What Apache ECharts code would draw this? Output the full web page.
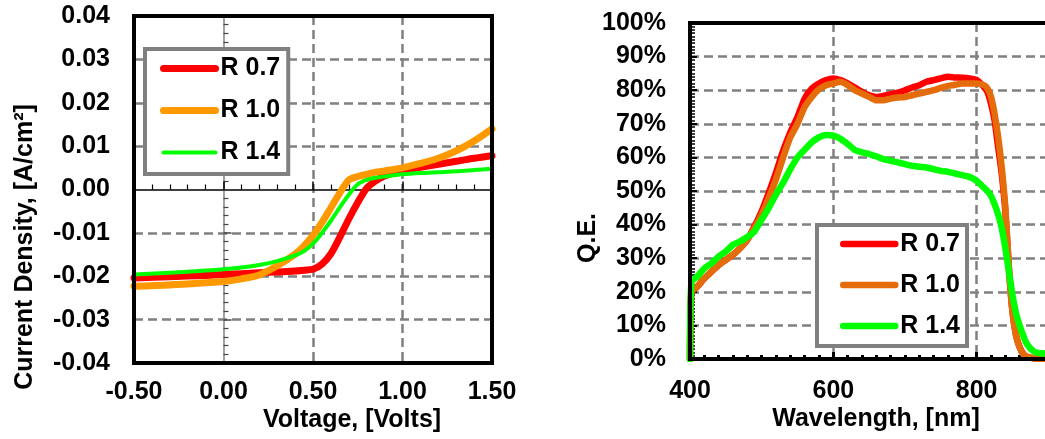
<!DOCTYPE html>
<html><head><meta charset="utf-8">
<script src="https://cdn.jsdelivr.net/npm/echarts@6/dist/echarts.min.js"></script>
<style>html,body{margin:0;padding:0;background:#fff}#c{width:1045px;height:439px}</style>
</head><body><div id="c"></div>
<script>
// ---- J-V data (left chart) ----
const voltage = [-0.5,-0.3,-0.1,0,0.1,0.2,0.3,0.4,0.45,0.5,0.55,0.6,0.65,0.7,0.75,0.8,0.85,0.9,1.0,1.1,1.2,1.3,1.4,1.5];
const jR07 = [-0.0204,-0.0201,-0.0198,-0.0196,-0.0194,-0.0192,-0.0190,-0.0188,-0.0186,-0.0184,-0.0172,-0.0148,-0.0110,-0.0068,-0.0030,0.0003,0.0020,0.0031,0.0044,0.0051,0.0058,0.0065,0.0072,0.0078];
const jR10 = [-0.0223,-0.0220,-0.0215,-0.0212,-0.0206,-0.0197,-0.0176,-0.0149,-0.0130,-0.0106,-0.0076,-0.0042,-0.0008,0.0022,0.0030,0.0035,0.0040,0.0043,0.0050,0.0060,0.0072,0.0089,0.0112,0.0140];
const jR14 = [-0.0196,-0.0192,-0.0187,-0.0184,-0.0180,-0.0174,-0.0165,-0.0152,-0.0142,-0.0125,-0.0100,-0.0072,-0.0041,-0.0012,0.0012,0.0022,0.0027,0.0030,0.0035,0.0038,0.0040,0.0042,0.0045,0.0048];

// ---- QE data (right chart), percent ----
const wavelength = [400,402,410,420,430,440,450,460,470,480,490,500,510,520,530,540,550,560,570,580,590,600,610,620,630,640,650,660,670,680,690,700,710,720,730,740,750,760,770,780,790,800,810,815,820,825,830,835,840,845,850,855,860,865,870,880,890,900];
const qeR07 = [0,20,21.5,24,26,28,29.5,31,33,35.5,39.5,44,49.5,55.5,62,67.5,72,77.5,80.5,82,83,83.5,83,82,80.8,79.5,78.5,78,78.3,78.8,79.3,80,80.8,81.5,82.5,83,83.5,84,83.8,83.7,83.5,83,81,79.5,76,71,63,55,44,27,14,7,3.5,1.5,0.7,0.2,0.1,0];
const qeR10 = [0,20,21.5,24,26,28,29.5,31,33,35.5,39,43,48,53.5,60,66,70,75,78,80.3,81.5,82,82.5,81.5,80,79,78,77,77,77.5,77.8,78,78.5,79,79.5,80,80.7,81.3,81.6,82,82,82,81.5,80.5,78,73,66,57,45,27,14,7,3.5,1.5,0.7,0.2,0.1,0];
const qeR14 = [0,23,24.5,27,28.5,30.5,32,34,35,36.3,38,41.5,45,49,52.5,56.5,60,62.3,64.5,66,66.7,66.5,65.5,64,62.2,61.5,61,60.3,59.5,59,58.5,58,57.5,57.2,57,56.5,56,55.7,55.2,54.7,54.2,53,51,50,48.5,46,43,39,33,26,19,13.5,10,7,4.5,2.2,1.7,1.6];

const seriesNames = ['R 0.7','R 1.0','R 1.4'];
const QE_SUFFIX = ' (QE)';
const jvColors = ['#FF0000','#FF9900','#00FF00'];
const qeColors = ['#FF0000','#E46C0A','#00FF00'];

const FONT = '"Liberation Sans", Arial, sans-serif';
const lab = {color:'#000', fontFamily:FONT, fontWeight:'bold', fontSize:25};
const GRAY = '#808080', NONE = 'rgba(0,0,0,0)';
const dash = {color:GRAY, width:2.5, type:[9,5]};
// split lines on the J-V chart: skip the ones under the zero axes
const dashJVx = {...dash, color:[GRAY, NONE, GRAY, GRAY, GRAY]};
const dashJVy = {...dash, color:[GRAY, GRAY, GRAY, GRAY, NONE, GRAY, GRAY, GRAY, GRAY]};
const fmt2 = v => Math.abs(v) < 1e-9 ? '0.00' : v.toFixed(2);

const jvSets = [jR07, jR10, jR14];
const jvWidths = [7, 7, 4];
const qeSets = [qeR07, qeR10, qeR14];

const series = [];
jvSets.forEach((arr, k) => {
  series.push({
    type:'line', name:seriesNames[k], xAxisIndex:0, yAxisIndex:0,
    data: voltage.map((v,i)=>[v, arr[i]]),
    showSymbol:false, symbol:'none', smooth:0.3, z:2+k,
    lineStyle:{color:jvColors[k], width:jvWidths[k], cap:'round', join:'round'},
    itemStyle:{color:jvColors[k]}
  });
});
qeSets.forEach((arr, k) => {
  series.push({
    type:'line', name:seriesNames[k]+QE_SUFFIX, xAxisIndex:2, yAxisIndex:2,
    data: wavelength.map((w,i)=>[w, arr[i]]),
    showSymbol:false, symbol:'none', smooth:0.2, z:2+k,
    lineStyle:{color:qeColors[k], width:6.5, cap:'round', join:'round'},
    itemStyle:{color:qeColors[k]}
  });
});

const titleFont = 'bold 25px "Liberation Sans", Arial, sans-serif';
function title(text, x, y, rot){
  return {type:'text', x:x, y:y, rotation:rot||0, z:20,
    style:{text:text, font:titleFont, fill:'#000', align:'center', verticalAlign:'middle', textAlign:'center', textVerticalAlign:'middle'}};
}

const legendBase = {
  orient:'vertical', align:'left', itemWidth:52, itemHeight:25,
  backgroundColor:'#fff', borderColor:GRAY, borderWidth:4,
  textStyle:{...lab, lineHeight:25},
  lineStyle:{width:'inherit'},
  itemStyle:{color:'transparent', borderColor:'transparent', borderWidth:0},
  selectedMode:false, z:10
};

const option = {
  animation:false,
  backgroundColor:'#fff',
  grid:[
    {left:134, top:16, width:358, height:347, show:true, borderColor:'#000', borderWidth:4, backgroundColor:'transparent', z:5, outerBoundsMode:'none', containLabel:false},
    {left:690, top:23, width:430, height:336, show:true, borderColor:'#000', borderWidth:4, backgroundColor:'transparent', z:5, outerBoundsMode:'none', containLabel:false}
  ],
  xAxis:[
    {gridIndex:0, type:'value', min:-0.5, max:1.5, interval:0.5,
     axisLine:{show:false, onZero:false}, axisTick:{show:false},
     axisLabel:{...lab, margin:17, formatter:fmt2},
     splitLine:{show:true, lineStyle:dashJVx}},
    {gridIndex:0, type:'value', position:'bottom', min:-0.5, max:1.5, interval:0.5,
     axisLine:{show:true, onZero:true, onZeroAxisIndex:0, lineStyle:{color:'#000', width:1.5}},
     axisTick:{show:true, inside:true, length:8, lineStyle:{color:'#000', width:1.5}},
     minorTick:{show:true, splitNumber:5, length:5, lineStyle:{color:'#000', width:1.2}},
     axisLabel:{show:false}, splitLine:{show:false}},
    {gridIndex:1, type:'value', min:400, max:1000, interval:200,
     axisLine:{show:false, onZero:false},
     axisTick:{show:true, inside:true, length:7, lineStyle:{color:'#000', width:3}},
     minorTick:{show:true, splitNumber:10, length:4, lineStyle:{color:'#000', width:3}},
     axisLabel:{...lab, margin:20},
     splitLine:{show:true, lineStyle:dash}}
  ],
  yAxis:[
    {gridIndex:0, type:'value', min:-0.04, max:0.04, interval:0.01,
     axisLine:{show:false, onZero:false}, axisTick:{show:false},
     axisLabel:{...lab, margin:24, formatter:fmt2},
     splitLine:{show:true, lineStyle:dashJVy}},
    {gridIndex:0, type:'value', position:'left', min:-0.04, max:0.04, interval:0.01,
     axisLine:{show:true, onZero:true, onZeroAxisIndex:0, lineStyle:{color:GRAY, width:1.5}},
     axisTick:{show:true, inside:true, length:8, lineStyle:{color:'#444', width:1.5}},
     minorTick:{show:true, splitNumber:5, length:5, lineStyle:{color:'#444', width:1.2}},
     axisLabel:{show:false}, splitLine:{show:false}},
    {gridIndex:1, type:'value', min:0, max:100, interval:10,
     axisLine:{show:false, onZero:false},
     axisTick:{show:true, inside:true, length:7, lineStyle:{color:'#000', width:2}},
     minorTick:{show:true, splitNumber:10, length:5, lineStyle:{color:'#000', width:1.5}},
     axisLabel:{...lab, margin:24, formatter:'{value}%'},
     splitLine:{show:true, lineStyle:dash}}
  ],
  legend:[
    {...legendBase, left:145, top:49, padding:[7,8,9,15], itemGap:17,
     data:seriesNames.slice()},
    {...legendBase, left:817, top:225, padding:[6.5,7,7.5,23], itemGap:16,
     data:seriesNames.map(n=>n+QE_SUFFIX), formatter:n=>n.replace(QE_SUFFIX,'')}
  ],
  graphic:[
    title('Current Density, [A/cm²]', 25, 247, Math.PI/2),
    title('Voltage, [Volts]', 352, 420),
    title('Q.E.', 588, 238, Math.PI/2),
    title('Wavelength, [nm]', 876, 419)
  ],
  series:series
};
const chart = echarts.init(document.getElementById('c'), null, {renderer:'canvas'});
chart.setOption(option);
</script>
</body></html>
